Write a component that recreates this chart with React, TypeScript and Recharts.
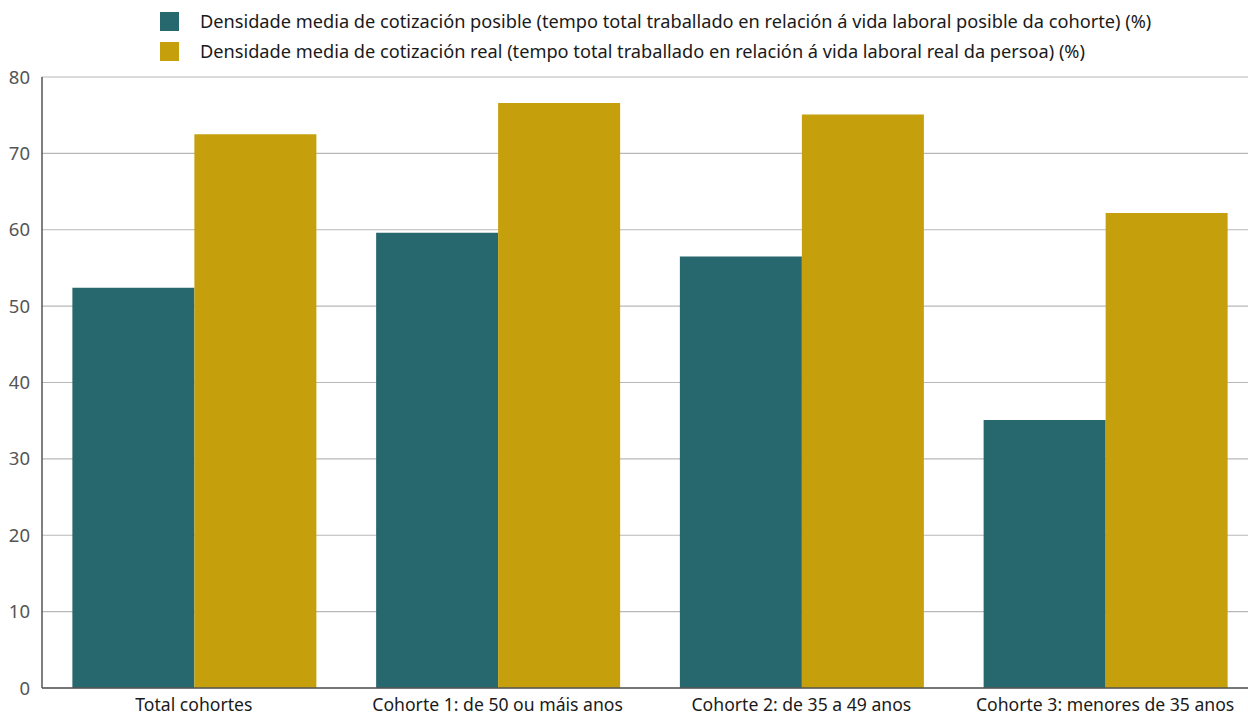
import React from 'react';
import { BarChart, Bar, XAxis, YAxis, CartesianGrid } from 'recharts';

/* ── Data ─────────────────────────────────────────────── */
const categories = [
  'Total cohortes',
  'Cohorte 1: de 50 ou máis anos',
  'Cohorte 2: de 35 a 49 anos',
  'Cohorte 3: menores de 35 anos',
];
const possibleValues = [52.4, 59.6, 56.5, 35.1];
const realValues = [72.5, 76.6, 75.1, 62.2];
const seriesNames = [
  'Densidade media de cotización posible (tempo total traballado en relación á vida laboral posible da cohorte) (%)',
  'Densidade media de cotización real (tempo total traballado en relación á vida laboral real da persoa) (%)',
];
const yTicks = [0, 10, 20, 30, 40, 50, 60, 70, 80];

/* ── Tokens ───────────────────────────────────────────── */
const COLORS = {
  teal: '#27686E',
  gold: '#C59F0C',
  grid: '#B8B8B8',
  axis: '#555555',
  tick: '#555555',
  label: '#1A1A1A',
};
const FONT = "'Noto Sans', sans-serif";

const data = categories.map((name, i) => ({
  name,
  possible: possibleValues[i],
  real: realValues[i],
}));

const legendColors = [COLORS.teal, COLORS.gold];

export default function App() {
  return (
    <div
      style={{
        position: 'absolute',
        left: 0,
        top: 0,
        width: 1248,
        height: 715,
        overflow: 'hidden',
        background: '#fff',
        fontFamily: FONT,
      }}
    >
      {/* Legend */}
      <div style={{ position: 'absolute', left: 160, top: 6 }}>
        {seriesNames.map((s, i) => (
          <div key={s} style={{ display: 'flex', alignItems: 'center', height: 30 }}>
            <span style={{ width: 19, height: 19, background: legendColors[i], marginRight: 21, flexShrink: 0 }} />
            <span style={{ fontSize: 18.2, lineHeight: '30px', color: COLORS.label, whiteSpace: 'nowrap' }}>{s}</span>
          </div>
        ))}
      </div>

      <BarChart
        width={1258}
        height={715}
        data={data}
        margin={{ top: 77, right: 1, bottom: 0, left: 0 }}
        barCategoryGap="10%"
        barGap={0}
      >
        <CartesianGrid vertical={false} stroke={COLORS.grid} strokeWidth={1.2} />
        <XAxis
          dataKey="name"
          height={27}
          tickLine={false}
          axisLine={{ stroke: COLORS.axis, strokeWidth: 1.5 }}
          tick={{ fontFamily: FONT, fontSize: 17.6, fill: COLORS.label, dy: 3 }}
          interval={0}
        />
        <YAxis
          width={42}
          domain={[0, 80]}
          ticks={yTicks}
          tickLine={false}
          axisLine={{ stroke: COLORS.axis, strokeWidth: 1.5 }}
          tick={{ fontFamily: FONT, fontSize: 18.5, fill: COLORS.tick }}
          tickMargin={6}
        />
        <Bar dataKey="possible" name={seriesNames[0]} fill={COLORS.teal} isAnimationActive={false} />
        <Bar dataKey="real" name={seriesNames[1]} fill={COLORS.gold} isAnimationActive={false} />
      </BarChart>
    </div>
  );
}
